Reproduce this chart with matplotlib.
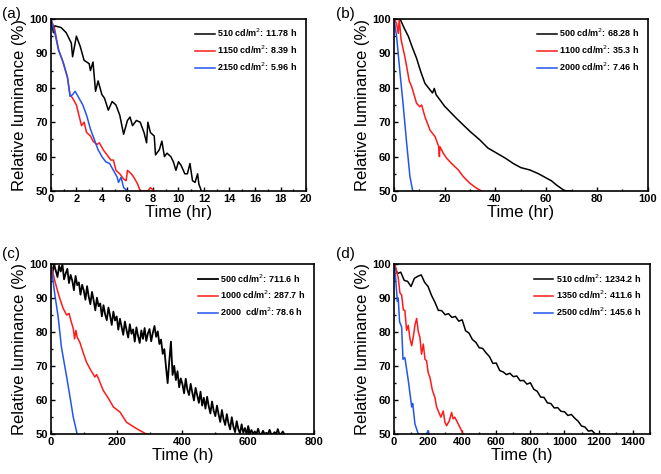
import matplotlib
matplotlib.use("Agg")
import matplotlib.pyplot as plt
from matplotlib.ticker import MultipleLocator

plt.rcParams['font.family'] = ['Liberation Sans', 'DejaVu Sans']

# ---- panel (a) ----
a_t_black = [0, 0.2, 0.3, 0.8, 1.2, 1.6, 1.7, 2.0, 2.3, 2.6, 3.0, 3.1, 3.3, 3.5, 3.7, 4.0, 4.2, 4.5,
             4.8, 5.1, 5.4, 5.7, 6.0, 6.2, 6.4, 6.7, 7.0, 7.3, 7.5, 7.6, 7.8, 8.1, 8.2, 8.5, 8.7,
             8.9, 9.1, 9.4, 9.6, 9.8, 10.0, 10.2, 10.5, 10.7, 10.9, 11.1, 11.3, 11.5, 11.6, 11.8]
a_l_black = [100, 96, 98, 97.5, 96, 93, 89, 95, 92, 88, 87, 85, 87.5, 79, 82, 78, 77, 73.5,
             76, 75, 72, 66.5, 70.5, 71.5, 69, 70.5, 70, 67, 64, 70, 67, 66, 60.5, 62, 64.5,
             60, 61, 60, 58.5, 56, 58.5, 57.5, 55, 55, 58, 53, 52.5, 55, 52, 50]
a_t_red = [0, 0.3, 0.6, 0.9, 1.3, 1.5, 1.7, 2.0, 2.2, 2.4, 2.6, 2.8, 3.1, 3.3, 3.6, 3.8, 4.1, 4.4,
           4.7, 4.9, 5.1, 5.4, 5.7, 5.9, 6.0, 6.3, 6.5, 6.8, 7.0, 7.3, 7.6, 7.8, 8.1]
a_l_red = [100, 97, 91, 88, 83, 78, 77, 75, 72, 69, 70, 67, 66, 64.5, 63.5, 64, 62, 60.5,
           59, 59, 56, 55, 53.5, 53, 56, 55, 54, 52, 50, 50, 50, 51, 50]
a_t_blue = [0, 0.3, 0.6, 1.0, 1.3, 1.5, 1.7, 1.9, 2.2, 2.5, 2.8, 3.1, 3.4, 3.7, 4.0, 4.3, 4.6,
            4.9, 5.2, 5.3, 5.5, 5.7, 6.0]
a_l_blue = [100, 96, 91, 87, 83, 77.5, 78, 79, 77, 75, 72, 68, 65, 62, 60, 58.5, 58,
            56, 54, 52.5, 54, 51, 50]

# ---- panel (b) ----
b_t_black = [2.4, 4, 5.7, 7.3, 8.9, 10.5, 12.2, 14.2, 15.2, 15.9, 16.6, 18.1, 20, 22, 24.5, 27.3,
             30, 33.9, 37, 40.5, 44, 47, 50, 53.6, 57, 60.2, 62, 64.1, 66.8, 68, 70]
b_l_black = [100, 97.4, 94.9, 91.6, 88.6, 84.8, 81.3, 79.4, 78.5, 79.8, 78, 76.5, 74.6, 73.1, 71.2,
             69.2, 67.3, 64.8, 62.5, 61, 59.5, 58, 56.8, 56.1, 55, 53.7, 53, 51.7, 50.3, 50, 50]
b_t_red = [0.4, 1.0, 1.7, 2.1, 2.8, 3.7, 4.3, 5.3, 6.0, 7.0, 8.9, 10.2, 10.9, 12.2, 14.2, 16.2,
           17.6, 17.9, 18.1, 19.4, 20.8, 22.7, 25.4, 27.3, 30, 32.6, 34.6]
b_l_red = [99.7, 98.7, 95.8, 100, 94, 91, 89, 85, 82, 80.3, 75.5, 74.5, 75, 71.6, 67.7, 65.8,
           63, 60, 62.9, 61, 59.5, 58, 56.1, 54.2, 52.2, 50.8, 50]
b_t_blue = [0, 1.05, 2.4, 3.7, 5.0, 6.3, 7.4, 9]
b_l_blue = [100, 94.9, 84.2, 74.5, 63.9, 54.2, 50, 50]

# ---- panel (c) ----
c_t_black = [0, 5, 10, 15, 20, 25, 30, 35, 40, 45, 50, 55,
             60, 65, 70, 75, 80, 85, 90, 95, 100, 105, 110, 115,
             120, 125, 130, 135, 140, 145, 150, 155, 160, 165, 170, 175,
             180, 185, 190, 195, 200, 205, 210, 215, 220, 225, 230, 235,
             240, 245, 250, 255, 260, 265, 270, 275, 280, 285, 290, 295,
             300, 305, 310, 315, 320, 325, 330, 335, 340, 345, 350, 355,
             360, 365, 370, 375, 380, 385, 390, 395, 400, 405, 410, 415,
             420, 425, 430, 435, 440, 445, 450, 455, 460, 465, 470, 475,
             480, 485, 490, 495, 500, 505, 510, 515, 520, 525, 530, 535,
             540, 545, 550, 555, 560, 565, 570, 575, 580, 585, 590, 595,
             600, 605, 610, 615, 620, 625, 630, 635, 640, 645, 650, 655,
             660, 665, 670, 675, 680, 685, 690, 695, 700, 705, 710]
c_l_black = [100, 97.5, 99.8, 98, 96.2, 99.5, 97.8, 100, 95.5, 97.2, 98.6, 94.4,
             96.8, 95.1, 92.3, 96.5, 93.8, 94.6, 91, 93.9, 92.2, 89.5, 93.5, 90.4,
             88.2, 91.8, 89.3, 86.4, 90.1, 87.6, 88.4, 84.6, 87.9, 85.2, 83.5, 87.2,
             84.8, 82.1, 86, 83.4, 84.6, 80.7, 83.9, 81.5, 79.2, 83.1, 80.6, 78.4,
             82.3, 79.5, 80.8, 77.2, 81.4, 78.9, 76.8, 80.5, 78, 81.2, 77.4, 79.6,
             80.9, 77.3, 79.8, 81.8, 78.6, 80.2, 76.5, 77.8, 73.6, 75, 69.8, 65,
             71.5, 77.2, 67.4, 70.1, 65.9, 68.5, 63.8, 66.4, 64.7, 62, 66.3, 63.1,
             61.5, 64.8, 62.2, 59.9, 63.6, 61.4, 59.2, 62.5, 58.4, 60.7, 57.5, 61,
             58.2, 56.1, 59.6, 56.9, 55.3, 58.4, 55.8, 53.6, 57.1, 54.4, 52.7, 55.9,
             53.2, 51.4, 55, 52.2, 50.6, 53.8, 51.5, 50.2, 52.9, 50.4, 51.8, 50,
             52.4, 50.3, 51.2, 50, 50.8, 50, 51.6, 50, 50, 51, 50, 50.4,
             50, 51.3, 50, 50, 50.6, 50, 51.5, 50, 50, 50.8, 50]
c_t_red = [0, 12, 25, 37, 48, 55, 62, 68, 72, 76, 80, 88, 98, 108, 120, 134, 139, 144, 159, 175,
           190, 210, 230, 261, 291]
c_l_red = [100, 95, 90.5, 87, 85, 85.5, 83, 81, 78, 80.5, 78.5, 77, 74, 71.2, 69, 66.8, 67.5,
           66.5, 62.9, 60.5, 58, 56.5, 53.5, 51.6, 50]
c_t_blue = [0, 12, 22, 32, 48, 58, 68, 80]
c_l_blue = [100, 91, 84.5, 75.6, 66.8, 61, 55, 50]

# ---- panel (d) ----
d_t_black = [0, 20, 40, 60, 80, 100, 120, 140, 160, 180, 200, 220, 240, 260, 280, 300, 320,
             340, 360, 380, 400, 420, 440, 460, 480, 500, 520, 540, 560, 580, 600, 620, 640,
             660, 680, 700, 720, 740, 760, 780, 800, 820, 840, 860, 880, 900, 920, 940, 960,
             980, 1000, 1020, 1040, 1060, 1080, 1100, 1120, 1140, 1160, 1180, 1200, 1240]
d_l_black = [100, 97.2, 97.6, 95.2, 94.9, 93.4, 95.8, 96.4, 96.8, 94.6, 93.4, 90.8, 88.8,
             86.4, 86.3, 85.1, 85.4, 84.3, 84.6, 83.2, 83.6, 80.4, 79.7, 77.8, 77, 75.4,
             75.2, 73.9, 72.8, 70.8, 70.9, 68.7, 68.3, 67.5, 67.9, 66.9, 67.1, 65.7, 65.8,
             64.7, 65.1, 63.2, 62.6, 60.9, 60.8, 59.2, 59, 57.7, 57.8, 56.7, 56.6, 55.5,
             55.8, 54.7, 53.8, 52.4, 52.1, 50.9, 51.1, 50.1, 50, 50]
d_t_red = [5, 25, 35, 45, 55, 64, 74, 84, 94, 104, 113, 123, 133, 143, 152, 162, 172, 182, 191,
           201, 211, 225, 240, 250, 260, 275, 289, 299, 309, 325, 338, 347, 357, 372, 387, 406]
d_l_red = [100, 96, 91.5, 90.9, 86.5, 86.4, 80.5, 82, 78, 76, 78.5, 82, 84, 80, 78.5, 73.5,
           76.5, 72, 71.6, 68, 66.7, 63, 60.8, 58, 56.8, 55, 56.8, 53.5, 52.5, 54, 56.4,
           54.5, 55, 53.5, 52, 50]
d_t_blue = [0, 8, 12, 20, 25, 33, 45, 53, 64, 84, 104, 110, 123, 143, 190, 200, 205]
d_l_blue = [100, 97, 94.3, 89, 90, 83, 81.5, 72, 72.5, 65.8, 58, 59, 53, 50, 50, 51, 50]

# legend labels
a_labels = ["510 cd/m$^2$: 11.78 h", "1150 cd/m$^2$: 8.39 h", "2150 cd/m$^2$: 5.96 h"]
b_labels = ["500 cd/m$^2$: 68.28 h", "1100 cd/m$^2$: 35.3 h", "2000 cd/m$^2$: 7.46 h"]
c_labels = ["500 cd/m$^2$: 711.6 h", "1000 cd/m$^2$: 287.7 h", "2000  cd/m$^2$: 78.6 h"]
d_labels = ["510 cd/m$^2$: 1234.2 h", "1350 cd/m$^2$: 411.6 h", "2500 cd/m$^2$: 145.6 h"]

RED = "#ff1a1a"
BLUE = "#2255ee"

fig = plt.figure(figsize=(6.61, 4.74), dpi=100)

panels = [
    ("(a)", [0.077, 0.597, 0.386, 0.363], (0, 20), 2, 1, "Time (hr)",
     [(a_t_black, a_l_black), (a_t_red, a_l_red), (a_t_blue, a_l_blue)], a_labels),
    ("(b)", [0.596, 0.597, 0.384, 0.363], (0, 100), 20, 10, "Time (hr)",
     [(b_t_black, b_l_black), (b_t_red, b_l_red), (b_t_blue, b_l_blue)], b_labels),
    ("(c)", [0.077, 0.084, 0.398, 0.359], (0, 800), 200, 100, "Time (h)",
     [(c_t_black, c_l_black), (c_t_red, c_l_red), (c_t_blue, c_l_blue)], c_labels),
    ("(d)", [0.596, 0.084, 0.387, 0.359], (0, 1500), 200, 100, "Time (h)",
     [(d_t_black, d_l_black), (d_t_red, d_l_red), (d_t_blue, d_l_blue)], d_labels),
]

label_pos = {"(a)": (0.003, 0.985), "(b)": (0.508, 0.985), "(c)": (0.003, 0.478), "(d)": (0.508, 0.478)}

for tag, rect, xlim, major, minor, xlab, series, labels in panels:
    ax = fig.add_axes(rect)
    for (t, l), c, lab in zip(series, ["black", RED, BLUE], labels):
        lw = 1.3 if (tag == "(c)" and c == "black") else 1.1
        ax.plot(t, l, color=c, lw=lw, label=lab)
    ax.set_xlim(*xlim)
    ax.set_ylim(50, 100)
    ax.xaxis.set_major_locator(MultipleLocator(major))
    ax.xaxis.set_minor_locator(MultipleLocator(minor))
    ax.yaxis.set_major_locator(MultipleLocator(10))
    ax.yaxis.set_minor_locator(MultipleLocator(5))
    for s in ax.spines.values():
        s.set_linewidth(1.2)
    ax.tick_params(which="both", direction="in", labelsize=8, pad=2, width=1)
    ax.tick_params(which="major", length=3)
    ax.tick_params(which="minor", length=1.5)
    for lb in ax.get_xticklabels() + ax.get_yticklabels():
        lb.set_fontweight("bold")
    ax.set_xlabel(xlab, fontsize=12, labelpad=1)
    ax.set_ylabel("Relative luminance (%)", fontsize=12, labelpad=2)
    ax.legend(loc="upper right", prop={"size": 6.5, "weight": "bold"}, frameon=False,
              handlelength=2.2, handletextpad=0.3, labelspacing=0.5, borderaxespad=0.5)
    fig.text(label_pos[tag][0], label_pos[tag][1], tag, fontsize=11, ha="left", va="top")

fig.savefig("out.png", dpi=100)
